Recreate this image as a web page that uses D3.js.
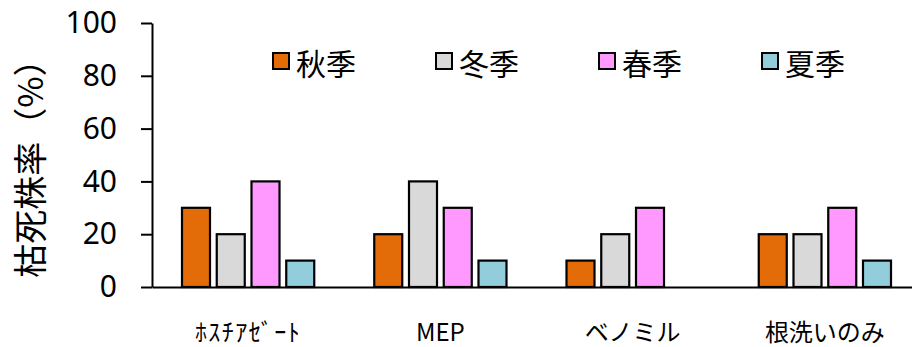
<!DOCTYPE html>
<html><head><meta charset="utf-8">
<script src="https://cdn.jsdelivr.net/npm/d3@7"></script>
<style>body{margin:0;background:#fff}svg{display:block}</style>
</head><body>
<svg id="c" width="912" height="347"></svg>
<script>
const categories = ["ﾎｽﾁｱｾﾞｰﾄ", "MEP", "ベノミル", "根洗いのみ"];
const seriesNames = ["秋季", "冬季", "春季", "夏季"];
const autumn = [30, 20, 10, 20];
const winter = [20, 40, 20, 20];
const spring = [40, 30, 30, 30];
const summer = [10, 10, 0, 10];
const colors = ["#E36C09", "#D9D9D9", "#FF99FF", "#92CDDC"];
const yTicks = [0, 20, 40, 60, 80, 100];
const yTitle = "枯死株率（%）";

const seriesValues = [autumn, winter, spring, summer];
const svg = d3.select("#c");
const plotLeft = 152, plotRight = 921, plotTop = 23, plotBottom = 287;

const x0 = d3.scaleBand().domain(categories).range([plotLeft, plotRight]).paddingInner(0.277).paddingOuter(0.1385);
const x1 = d3.scaleBand().domain(seriesNames).range([0, x0.bandwidth()]).paddingInner(0.194).paddingOuter(0.097);
const y = d3.scaleLinear().domain([0, 100]).range([plotBottom, plotTop]);

// bars
categories.forEach((c, ci) => {
  seriesNames.forEach((s, si) => {
    const v = seriesValues[si][ci];
    if (v <= 0) return;
    svg.append("rect")
      .attr("x", x0(c) + x1(s))
      .attr("y", y(v))
      .attr("width", x1.bandwidth())
      .attr("height", y(0) - y(v))
      .attr("fill", colors[si])
      .attr("stroke", "#000")
      .attr("stroke-width", 2.2);
  });
});

// y axis
const yAxis = svg.append("g").attr("transform", `translate(${plotLeft},0)`)
  .call(d3.axisLeft(y).tickValues(yTicks).tickSize(11).tickPadding(24).tickSizeOuter(0));
yAxis.select(".domain").attr("stroke", "#000").attr("stroke-width", 2);
yAxis.selectAll(".tick line").attr("stroke", "#000").attr("stroke-width", 2);
yAxis.selectAll(".tick text").attr("font-family", "'Noto Sans', sans-serif").attr("font-size", 30).attr("fill", "#000");

// x axis
const xAxis = svg.append("g").attr("transform", `translate(0,${plotBottom})`)
  .call(d3.axisBottom(x0).tickSize(0).tickPadding(0).tickSizeOuter(0));
xAxis.select(".domain").attr("stroke", "#000").attr("stroke-width", 2);
xAxis.selectAll(".tick text")
  .attr("y", 43).attr("dy", null).attr("dominant-baseline", "central")
  .attr("font-family", "'Noto Sans CJK JP', 'Noto Sans', sans-serif")
  .attr("font-size", 24)
  .attr("letter-spacing", (d, i) => i === 0 ? "1.5px" : null)
  .attr("fill", "#000");

// y title
svg.append("text")
  .attr("transform", "translate(28,160) rotate(-90)")
  .attr("text-anchor", "middle").attr("dominant-baseline", "central")
  .attr("font-family", "'Noto Sans CJK JP', sans-serif").attr("font-size", 34)
  .text(yTitle);

// legend
const lg = svg.append("g");
seriesNames.forEach((s, i) => {
  const gx = 273 + i * 163;
  lg.append("rect").attr("x", gx).attr("y", 53).attr("width", 16).attr("height", 16)
    .attr("fill", colors[i]).attr("stroke", "#000").attr("stroke-width", 2);
  lg.append("text").attr("x", gx + 23).attr("y", 62)
    .attr("dominant-baseline", "central")
    .attr("font-family", "'Noto Sans CJK JP', sans-serif").attr("font-size", 30)
    .text(s);
});
</script>
</body></html>
